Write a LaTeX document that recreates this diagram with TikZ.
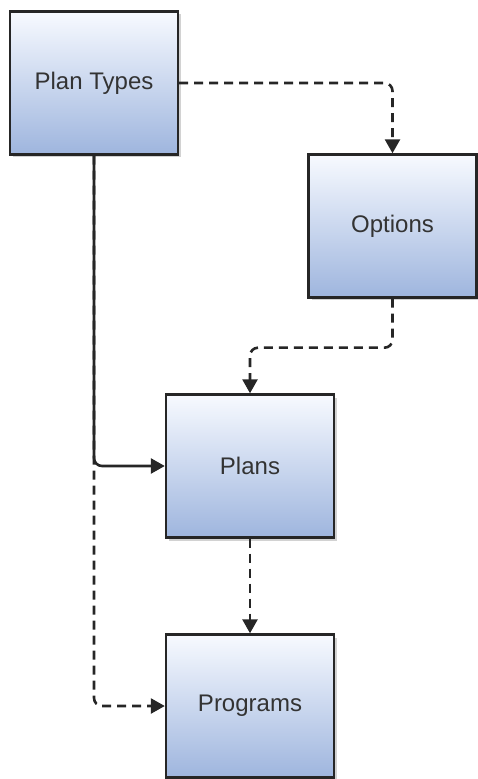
\documentclass[tikz,border=0pt]{standalone}
\usepackage{fontspec}
\setmainfont{Liberation Sans}
\usepackage{tikz}
\usetikzlibrary{arrows.meta,shadows}
\definecolor{boxtop}{rgb}{0.97,0.98,1}
\definecolor{boxbottom}{rgb}{0.62,0.71,0.87}
\definecolor{edge}{rgb}{0.15,0.15,0.15}
\definecolor{label}{rgb}{0.2,0.2,0.2}
\tikzset{
  entity/.style={draw=edge, line width=1.2pt, top color=boxtop, bottom color=boxbottom,
    minimum width=84pt, minimum height=71.5pt, text=label, font=\fontsize{12}{14}\selectfont,
    drop shadow={shadow xshift=1.5pt, shadow yshift=-1.5pt, fill=black!35, opacity=0.5}},
  link/.style={draw=edge, line width=1.3pt, rounded corners=4pt, -{Triangle[length=7pt,width=7.5pt]}},
  optional/.style={link, dash pattern=on 4.5pt off 3pt}
}

\begin{document}
\begin{tikzpicture}[x=0.5pt, y=-0.5pt]
\useasboundingbox (0,0) rectangle (477,779);
\node[entity] (types) at (94,83) {Plan Types};
\node[entity] (options) at (392.5,226) {Options};
\node[entity] (plans) at (250,466) {Plans};
\node[entity] (programs) at (250,706) {Programs};
% links
\draw[optional] (types.east) -| (options.north);
\draw[optional] (options.south) -- ++(0,49) -| (plans.north);
\draw[optional] (types.south) |- (programs.west);
\draw[link] (types.south) |- (plans.west);
\draw[optional] (plans.south) -- (programs.north);
\end{tikzpicture}
\end{document}
